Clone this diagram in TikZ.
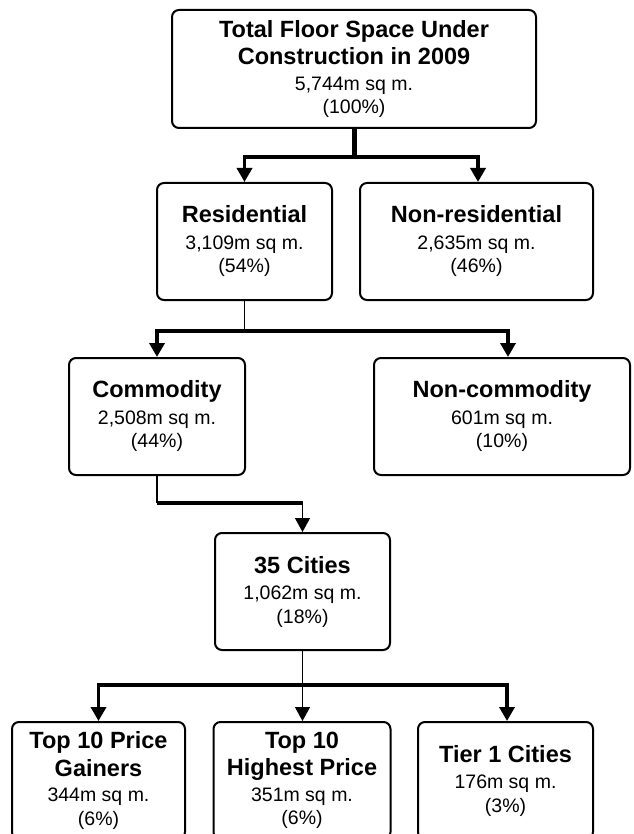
\documentclass[tikz,border=0pt]{standalone}
\usepackage{fontspec}
\setmainfont{Liberation Sans}
\usetikzlibrary{arrows.meta}
\newcommand{\boxhead}[1]{{\fontsize{23.5}{28}\selectfont\bfseries #1}}
\begin{document}
\begin{tikzpicture}[x=1pt,y=-1pt,
  box/.style={draw, line width=2pt, rounded corners=7pt, align=center, inner sep=0pt,
              minimum height=117pt, font=\fontsize{19.5}{23.5}\selectfont},
  thickline/.style={line width=3.5pt},
  thinline/.style={line width=1.3pt},
  tip/.style={-{Triangle[width=15pt,length=14pt]}}]
\useasboundingbox (0,0) rectangle (633,834);

% boxes
\node[box, minimum width=364pt, minimum height=118pt] (top) at (354,69)
  {\boxhead{Total Floor Space Under}\\[4pt]\boxhead{Construction in 2009}\\[2pt]5,744m sq m.\\(100\%)};
\node[box, minimum width=175pt] (res) at (244.5,241.5)
  {\boxhead{Residential}\\[3pt]3,109m sq m.\\(54\%)};
\node[box, minimum width=233pt] (nonres) at (476.5,241.5)
  {\boxhead{Non-residential}\\[3pt]2,635m sq m.\\(46\%)};
\node[box, minimum width=176pt] (comm) at (157,416.5)
  {\boxhead{Commodity}\\[3pt]2,508m sq m.\\(44\%)};
\node[box, minimum width=256pt] (noncomm) at (502,416.5)
  {\boxhead{Non-commodity}\\[3pt]601m sq m.\\(10\%)};
\node[box, minimum width=175pt] (cities) at (302.5,591.5)
  {\boxhead{35 Cities}\\[3pt]1,062m sq m.\\(18\%)};
\node[box, minimum width=173pt] (gainers) at (98.5,780.5)
  {\boxhead{Top 10 Price}\\[4pt]\boxhead{Gainers}\\[2pt]344m sq m.\\(6\%)};
\node[box, minimum width=177pt] (highest) at (302,780.5)
  {\boxhead{Top 10}\\[4pt]\boxhead{Highest Price}\\[2pt]351m sq m.\\(6\%)};
\node[box, minimum width=175pt] (tier) at (505.5,780.5)
  {\boxhead{Tier 1 Cities}\\[3pt]176m sq m.\\(3\%)};

% junction points
\coordinate (j1) at (354,157);
\coordinate (j2) at (244.5,331);
\coordinate (j3) at (157,503);
\coordinate (j5) at (302,685);

% connectors
\draw[line width=5pt] (top.south) -- (j1);
\draw[thickline,tip] (j1) -| (res.north);
\draw[thickline,tip] (j1) -| ([xshift=1.5pt]nonres.north);

\draw[thinline] (res.south) -- (j2);
\draw[thickline,tip] (j2) -| (comm.north);
\draw[thickline,tip] (j2) -| ([xshift=6pt]noncomm.north);

\draw[thinline] (comm.south) -- (j3);
\draw[thickline] (j3) -- (j3 -| cities.north);
\draw[thinline,tip] (j3 -| cities.north) -- (cities.north);

\draw[thinline,tip] (cities.south) -- (cities.south |- highest.north);
\draw[thickline,tip] (j5) -| (gainers.north);
\draw[thickline,tip] (j5) -| ([xshift=1.5pt]tier.north);
\end{tikzpicture}
\end{document}
